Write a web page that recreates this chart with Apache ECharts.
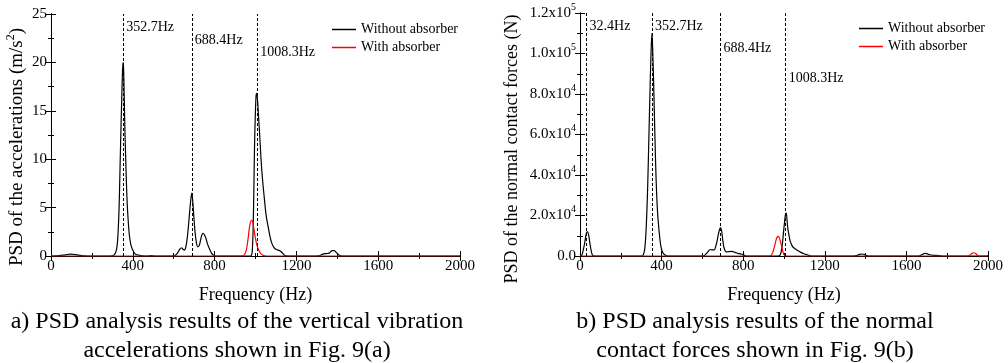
<!DOCTYPE html>
<html><head><meta charset="utf-8">
<script src="https://cdn.jsdelivr.net/npm/echarts@6/dist/echarts.min.js"></script>
<style>html,body{margin:0;padding:0;background:#fff}#c{width:1008px;height:363px}</style>
</head><body><div id="c"></div>
<script>
// ---- data (frequency Hz, PSD value) ----
const accWithout = [[0,0],[40,0.03],[70,0.12],[95,0.2],[120,0.15],[150,0.04],[180,0],[290,0],[305,0.05],[315,0.3],[323,1.0],[328,2.4],[333,5.0],[338,9.5],[342,13],[346,16.3],[350,19.2],[352.7,20],[355,19.3],[358,16.5],[362,12.5],[366,9.5],[370,6.8],[375,4.5],[382,2.4],[390,1.2],[400,0.6],[410,0.25],[425,0.1],[450,0.02],[470,0],[490,0.05],[510,0],[600,0],[610,0.1],[620,0.35],[630,0.7],[638,0.85],[645,0.7],[652,0.6],[660,1.0],[668,2.2],[675,3.8],[682,5.5],[688.4,6.5],[693,5.7],[698,4.2],[703,2.8],[710,1.5],[718,0.95],[725,1.1],[732,1.7],[738,2.2],[744,2.35],[750,2.2],[758,1.8],[766,1.2],[777,0.65],[785,0.3],[793,0.1],[805,0],[970,0],[980,0.05],[984,0.5],[988,2.5],[992,7],[995,11],[999,14.5],[1003,16.6],[1006,16.8],[1011,15.8],[1016,14],[1021,12.3],[1027,10],[1034,8],[1043,6],[1052,4.2],[1062,3.0],[1071,2],[1080,1.3],[1090,0.9],[1100,0.7],[1112,0.6],[1122,0.5],[1132,0.3],[1142,0.08],[1155,0],[1300,0],[1315,0.05],[1330,0.2],[1345,0.25],[1360,0.3],[1375,0.55],[1385,0.55],[1398,0.3],[1410,0.08],[1425,0],[2000,0]];
const accWith = [[0,0],[930,0],[940,0.02],[948,0.2],[955,0.6],[960,1.2],[965,2.0],[970,2.9],[975,3.45],[981,3.72],[987,3.45],[993,2.7],[1000,1.8],[1008,1.05],[1017,0.55],[1028,0.2],[1040,0.04],[1055,0],[2000,0]];
const forceWithout = [[0,0],[8,300],[15,2500],[23,6500],[30,10800],[36,12000],[42,10500],[49,6000],[56,2000],[62,300],[70,0],[300,0],[310,500],[318,4000],[325,15000],[332,35000],[338,60000],[344,85000],[349,103000],[352.7,110000],[356,103000],[361,85000],[367,60000],[373,38000],[380,22000],[388,12000],[396,5000],[405,1800],[415,600],[430,0],[600,0],[610,300],[625,1800],[638,3200],[648,3000],[658,3000],[666,5000],[672,7500],[678,10500],[684,13000],[689,14000],[694,12500],[699,8500],[704,5000],[710,2800],[718,2000],[730,2200],[745,2300],[760,1800],[775,1300],[790,1000],[805,400],[820,0],[970,0],[980,300],[986,2000],[992,6000],[997,11200],[1003,17000],[1008,21000],[1011,21200],[1015,17500],[1019,13500],[1023,11000],[1030,7500],[1040,5000],[1051,3800],[1065,2800],[1080,1900],[1100,1000],[1117,500],[1133,0],[1340,0],[1355,200],[1370,800],[1382,1000],[1395,700],[1405,200],[1415,0],[1660,0],[1675,600],[1690,1300],[1700,1200],[1715,600],[1730,350],[1760,250],[1780,0],[2000,0]];
const forceWith = [[0,0],[925,0],[936,200],[945,1800],[953,4600],[960,7500],[966,9200],[971,9700],[976,9200],[982,7200],[989,4600],[995,2000],[1002,300],[1012,0],[1900,0],[1912,500],[1922,1300],[1930,1600],[1938,1300],[1948,400],[1960,0],[1990,0],[2000,400]];
const accPeaks = [352.7, 688.4, 1008.3];
const accPeakLabelY = [23.66, 22.24, 21.04];
const forcePeaks = [32.4, 352.7, 688.4, 1008.3];
const forcePeakLabelY = [113440, 113440, 102440, 87640];
const forceTickMant = ['0.0','2.0','4.0','6.0','8.0','1.0','1.2'];
const forceTickExp = ['','4','4','4','4','5','5'];
const seriesNames = ['Without absorber','With absorber'];
const captionA = ['a) PSD analysis results of the vertical vibration','accelerations shown in Fig. 9(a)'];
const captionB = ['b) PSD analysis results of the normal','contact forces shown in Fig. 9(b)'];

const FONT = 'Liberation Serif';
const BLACK = '#000';
const RED = '#ff0000';

function xAxes(gi) {
  const common = {type:'value', gridIndex: gi, min:0, max:2000, interval:400,
    axisLine:{show:true, lineStyle:{color:BLACK, width:1}},
    axisTick:{show:true, inside:true, length:5, lineStyle:{color:BLACK}},
    minorTick:{show:true, splitNumber:2, length:3, lineStyle:{color:BLACK}},
    splitLine:{show:false}, minorSplitLine:{show:false}};
  return [
    Object.assign({}, common, {position:'bottom',
      axisLabel:{color:BLACK, fontFamily:FONT, fontSize:15, margin:3, formatter: v => String(v)},
      name:'Frequency (Hz)', nameLocation:'middle', nameGap:30,
      nameTextStyle:{color:BLACK, fontFamily:FONT, fontSize:18}}),
    Object.assign({}, common, {position:'top', axisLabel:{show:false}})
  ];
}
function yAxes(gi, max, interval, formatter, rich) {
  const common = {type:'value', gridIndex: gi, min:0, max:max, interval:interval,
    axisLine:{show:true, lineStyle:{color:BLACK, width:1}},
    axisTick:{show:true, inside:true, length:5, lineStyle:{color:BLACK}},
    minorTick:{show:true, splitNumber:2, length:3, lineStyle:{color:BLACK}},
    splitLine:{show:false}, minorSplitLine:{show:false}};
  const lab = {color:BLACK, fontFamily:FONT, fontSize:15, margin:4, formatter: formatter || (v => String(v))};
  if (rich) lab.rich = rich;
  return [
    Object.assign({}, common, {position:'left', axisLabel:lab}),
    Object.assign({}, common, {position:'right', axisLabel:{show:false}})
  ];
}

function peakMarks(peaks, labelY) {
  return {
    markLine: {silent:true, symbol:'none', animation:false,
      lineStyle:{color:BLACK, width:1, type:[3,2]},
      label:{show:false},
      data: peaks.map(p => ({xAxis:p}))},
    markPoint: {silent:true, symbol:'circle', symbolSize:0, animation:false,
      data: peaks.map((p,i) => ({coord:[p, labelY[i]], value:p,
        label:{show:true, position:'right', distance:3, color:BLACK, fontFamily:FONT, fontSize:14,
          formatter: p.toFixed(1)+'Hz'}}))}
  };
}

function lineSeries(name, data, color, xi, yi, extra) {
  return Object.assign({type:'line', name:name, data:data, xAxisIndex:xi, yAxisIndex:yi,
    showSymbol:false, smooth:0.35, animation:false,
    lineStyle:{color:color, width:1.2}, itemStyle:{color:color}}, extra || {});
}

const forceRich = {
  b:{fontFamily:FONT, fontSize:15, color:BLACK, lineHeight:22},
  s:{fontFamily:FONT, fontSize:10, color:BLACK, verticalAlign:'top'}
};

const chart = echarts.init(document.getElementById('c'), null, {renderer:'canvas'});
const legendCommon = {orient:'vertical', icon:'rect', itemWidth:24, itemHeight:1.5, itemGap:3,
  selectedMode:false, textStyle:{color:BLACK, fontFamily:FONT, fontSize:14, lineHeight:15},
  data: seriesNames};

function captionText(lines, cx) {
  return lines.map((t,i) => ({type:'text', x:cx, y: 322 + i*28.5, silent:true,
    style:{text:t, font:'24px "Liberation Serif"', fill:BLACK, align:'center', verticalAlign:'middle',
      textAlign:'center', textVerticalAlign:'middle'}}));
}

chart.setOption({
  backgroundColor:'#fff',
  grid:[{left:51, right:548, top:14, bottom:107, containLabel:false},
        {left:580, right:20, top:13, bottom:107, containLabel:false}],
  xAxis: xAxes(0).concat(xAxes(1)),
  yAxis: yAxes(0, 25, 5).concat(yAxes(1, 120000, 20000, function(v){
      const i = Math.round(v/20000);
      return forceTickExp[i] ? '{b|'+forceTickMant[i]+'x10}{s|'+forceTickExp[i]+'}' : '{b|'+forceTickMant[i]+'}';
    }, forceRich)),
  legend:[Object.assign({left:327, top:17}, legendCommon),
          Object.assign({left:854, top:16}, legendCommon)],
  series:[
    lineSeries(seriesNames[0], accWithout, BLACK, 0, 0, peakMarks(accPeaks, accPeakLabelY)),
    lineSeries(seriesNames[1], accWith, RED, 0, 0),
    lineSeries(seriesNames[0], forceWithout, BLACK, 2, 2, peakMarks(forcePeaks, forcePeakLabelY)),
    lineSeries(seriesNames[1], forceWith, RED, 2, 2)
  ],
  graphic:[
    {type:'text', x:17, y:147, rotation:Math.PI/2, silent:true,
      style:{text:'{t|PSD of the accelerations (m/s}{s|2}{t|)}', align:'center', verticalAlign:'middle',
        textAlign:'center', textVerticalAlign:'middle',
        rich:{t:{fontFamily:FONT, fontSize:19, fill:BLACK, color:BLACK, lineHeight:24},
              s:{fontFamily:FONT, fontSize:12, fill:BLACK, color:BLACK, verticalAlign:'top'}}}},
    {type:'text', x:512, y:149, rotation:Math.PI/2, silent:true,
      style:{text:'PSD of the normal contact forces (N)', font:'18px "Liberation Serif"', fill:BLACK,
        align:'center', verticalAlign:'middle', textAlign:'center', textVerticalAlign:'middle'}}
  ].concat(captionText(captionA, 237)).concat(captionText(captionB, 755))
});
</script></body></html>
